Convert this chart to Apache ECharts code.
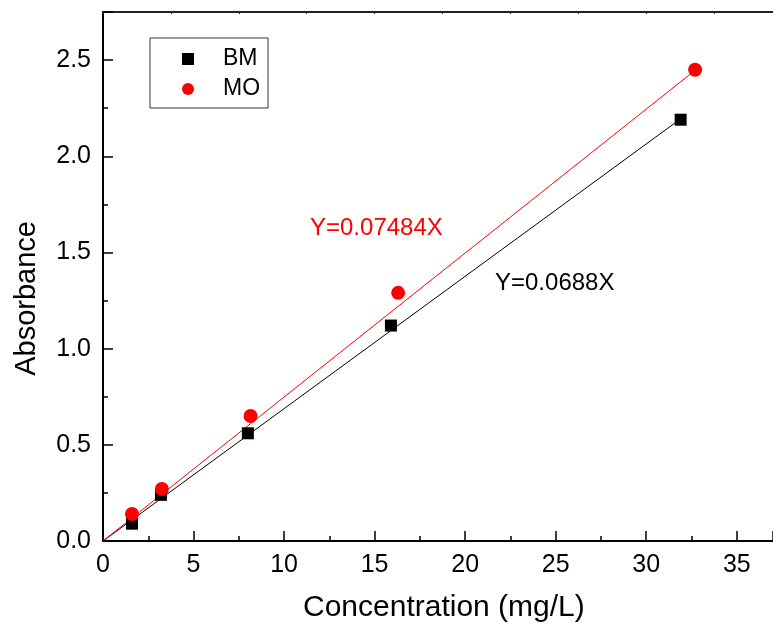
<html lang="en">
<head>
  <meta charset="UTF-8">
  <title>Absorbance calibration</title>
  <style>
    html, body { margin: 0; padding: 0; background: #fff; }
    #chart { width: 773px; height: 630px; }
  </style>
</head>
<body>
  <div id="chart"></div>
  <script src="https://cdn.jsdelivr.net/npm/echarts@6/dist/echarts.min.js"></script>
  <script>
    // values
    const bmConc = [1.6, 3.2, 8.0, 15.9, 31.9]
    const bmAbs = [0.09, 0.24, 0.56, 1.12, 2.19]
    const moConc = [1.6, 3.25, 8.15, 16.3, 32.7]
    const moAbs = [0.14, 0.27, 0.65, 1.29, 2.45]
    const bmSlope = 0.0688
    const moSlope = 0.07484
    const xTicks = [0, 5, 10, 15, 20, 25, 30, 35]

    const font = 'Liberation Sans, Arial, sans-serif'
    const pairs = (xs, ys) => xs.map((x, i) => [x, ys[i]])
    const fitLine = (xs, k) => [[0, 0], [xs[xs.length - 1], k * xs[xs.length - 1]]]

    const chart = echarts.init(document.querySelector('#chart'))
    const option = {
      animation: false,
      grid: { left: 103, top: 12, right: 0, bottom: 89 },
      legend: {
        data: ['BM', 'MO'],
        orient: 'vertical',
        left: 150,
        top: 38,
        padding: [9, 8, 7, 32],
        itemGap: 6,
        itemWidth: 12,
        itemHeight: 12,
        borderColor: '#333',
        borderWidth: 1,
        borderRadius: 0,
        textStyle: { fontFamily: font, fontSize: 23, color: '#000', lineHeight: 24, padding: [0, 0, 0, 24] }
      },
      xAxis: [
        {
          type: 'value',
          min: 0,
          max: 37,
          interval: 5,
          axisLine: { lineStyle: { color: '#000', width: 2 } },
          axisTick: { inside: true, length: 10, lineStyle: { color: '#000', width: 1.5 } },
          minorTick: { show: true, splitNumber: 2, length: 5, lineStyle: { color: '#000', width: 1.5 } },
          splitLine: { show: false },
          axisLabel: {
            margin: 12,
            fontFamily: font,
            fontSize: 25,
            color: '#000',
            showMaxLabel: false,
            formatter: v => (xTicks.includes(v) ? String(v) : '')
          }
        },
        {
          type: 'value',
          position: 'top',
          min: 0,
          max: 37,
          interval: 3.75,
          axisLine: { lineStyle: { color: '#222', width: 2 } },
          axisTick: { inside: true, length: 2, lineStyle: { color: '#222', width: 1 } },
          axisLabel: { show: false },
          splitLine: { show: false }
        }
      ],
      yAxis: {
        type: 'value',
        min: 0,
        max: 2.75,
        interval: 0.5,
        axisLine: { show: true, lineStyle: { color: '#000', width: 2 } },
        axisTick: { show: true, inside: true, length: 10, lineStyle: { color: '#000', width: 1.5 } },
        minorTick: { show: true, splitNumber: 2, length: 5, lineStyle: { color: '#000', width: 1.5 } },
        splitLine: { show: false },
        axisLabel: {
          margin: 12,
          fontFamily: font,
          fontSize: 25,
          color: '#000',
          showMaxLabel: false,
          formatter: v => v.toFixed(1)
        }
      },
      series: [
        {
          name: 'BM fit',
          type: 'line',
          data: fitLine(bmConc, bmSlope),
          showSymbol: false,
          lineStyle: { color: '#000', width: 1 },
          z: 1
        },
        {
          name: 'MO fit',
          type: 'line',
          data: fitLine(moConc, moSlope),
          showSymbol: false,
          lineStyle: { color: '#ff0000', width: 1 },
          z: 1
        },
        {
          name: 'BM',
          type: 'scatter',
          symbol: 'rect',
          symbolSize: 12,
          itemStyle: { color: '#000', opacity: 1 },
          data: pairs(bmConc, bmAbs),
          z: 3
        },
        {
          name: 'MO',
          type: 'scatter',
          symbol: 'circle',
          symbolSize: 14,
          itemStyle: { color: '#ff0000', opacity: 1 },
          data: pairs(moConc, moAbs),
          z: 3
        }
      ],
      graphic: [
        {
          type: 'text',
          left: 310,
          top: 216,
          style: { text: 'Y=' + moSlope + 'X', fill: '#ff0000', font: '24px ' + font }
        },
        {
          type: 'text',
          left: 495,
          top: 271,
          style: { text: 'Y=' + bmSlope + 'X', fill: '#000', font: '24px ' + font }
        },
        {
          type: 'text',
          left: 303,
          top: 593,
          style: { text: 'Concentration (mg/L)', fill: '#000', font: '30px ' + font }
        },
        {
          type: 'text',
          left: 12,
          top: 221,
          rotation: Math.PI / 2,
          style: { text: 'Absorbance', fill: '#000', font: '29px ' + font }
        }
      ]
    }
    chart.setOption(option)
  </script>
</body>
</html>
